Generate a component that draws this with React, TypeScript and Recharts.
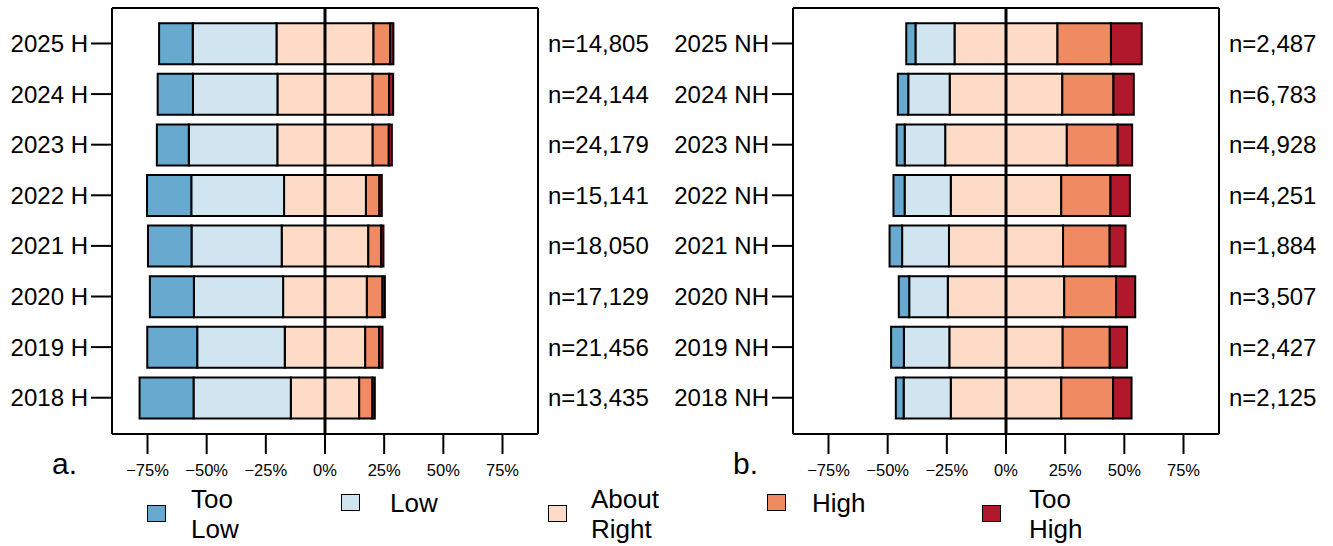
import { BarChart, Bar, XAxis, YAxis, CartesianGrid, ReferenceLine } from 'recharts'

const years = ['2025', '2024', '2023', '2022', '2021', '2020', '2019', '2018']
const pctTicks = [-75, -50, -25, 0, 25, 50, 75]

// panel a (H), percent of respondents
const tooLowH = [14.2, 14.9, 13.5, 18.7, 18.4, 18.6, 21.1, 22.8]
const lowH = [35.4, 35.7, 37.4, 39.2, 38.1, 37.7, 37.0, 41.1]
const aboutH = [41.0, 40.2, 40.3, 34.6, 36.6, 35.4, 34.0, 28.9]
const highH = [7.0, 7.0, 6.8, 5.7, 5.4, 6.6, 5.9, 5.6]
const tooHighH = [1.4, 1.7, 1.3, 1.0, 1.0, 1.0, 1.4, 1.0]
const nH = ['14,805', '24,144', '24,179', '15,141', '18,050', '17,129', '21,456', '13,435']

// panel b (NH)
const tooLowNH = [3.9, 4.4, 3.4, 4.7, 5.3, 4.4, 5.4, 3.3]
const lowNH = [16.5, 17.5, 17.1, 19.5, 19.8, 16.3, 19.2, 19.9]
const aboutNH = [43.5, 47.6, 51.4, 46.7, 48.2, 49.2, 47.9, 46.7]
const highNH = [22.6, 21.6, 21.5, 20.8, 19.7, 21.9, 19.9, 21.9]
const tooHighNH = [13.0, 8.6, 6.1, 8.2, 6.7, 8.1, 7.3, 7.8]
const nNH = ['2,487', '6,783', '4,928', '4,251', '1,884', '3,507', '2,427', '2,125']

const COLORS = {
  tooLow: '#67a9cf',
  low: '#d1e5f0',
  about: '#fddbc7',
  high: '#ef8a62',
  tooHigh: '#b2182b',
}

const legendItems = [
  { name: ['Too', 'Low'], color: COLORS.tooLow, sq: 147, tx: 191 },
  { name: ['Low'], color: COLORS.low, sq: 341, tx: 390 },
  { name: ['About', 'Right'], color: COLORS.about, sq: 548, tx: 591 },
  { name: ['High'], color: COLORS.high, sq: 767, tx: 812 },
  { name: ['Too', 'High'], color: COLORS.tooHigh, sq: 982, tx: 1029 },
]

const FONT = '"Liberation Sans", Arial, Helvetica, sans-serif'

function buildRows(suffix: string, tl: number[], l: number[], ar: number[], h: number[], th: number[], n: string[]) {
  return years.map((y, i) => ({
    pos: i + 1,
    label: `${y} ${suffix}`,
    n: `n=${n[i]}`,
    tl: -tl[i],
    l: -l[i],
    arL: -ar[i] / 2,
    arR: ar[i] / 2,
    h: h[i],
    th: th[i],
  }))
}

const rowsH = buildRows('H', tooLowH, lowH, aboutH, highH, tooHighH, nH)
const rowsNH = buildRows('NH', tooLowNH, lowNH, aboutNH, highNH, tooHighNH, nNH)

const yDomain = [0.299, 8.717]
const yTicks = years.map((_, i) => i + 1)

function fmtPct(v: number) {
  return (v < 0 ? '\u2212' : '') + Math.abs(v) + '%'
}

type Row = ReturnType<typeof buildRows>[number]

interface PanelProps {
  rows: Row[]
  left: number
  leftWidth: number
  rightWidth: number
  tag: string
  tagX: number
}

function Panel({ rows, left, leftWidth, rightWidth, tag, tagX }: PanelProps) {
  const barProps = { stackId: 's', stroke: '#000', strokeWidth: 2, barSize: 41, isAnimationActive: false }
  return (
    <div style={{ position: 'absolute', left, top: 0 }}>
      <BarChart
        width={leftWidth + 426 + rightWidth}
        height={490}
        data={rows}
        layout="vertical"
        stackOffset="sign"
        margin={{ top: 8, right: 0, bottom: 0, left: 0 }}
        style={{ fontFamily: FONT }}
      >
        {/* plot frame */}
        <CartesianGrid
          stroke="#000"
          strokeWidth={2}
          horizontalCoordinatesGenerator={({ offset }: any) => [offset.top, offset.top + offset.height]}
          verticalCoordinatesGenerator={({ offset }: any) => [offset.left, offset.left + offset.width]}
        />
        <XAxis
          type="number"
          domain={[-90, 90]}
          allowDataOverflow
          ticks={pctTicks}
          interval={0}
          tickFormatter={fmtPct}
          axisLine={false}
          tickLine={{ stroke: '#000', strokeWidth: 2 }}
          tickSize={20}
          tickMargin={10}
          height={56}
          tick={{ fill: '#000', fontSize: 16.5 }}
        />
        <YAxis
          type="number"
          dataKey="pos"
          domain={yDomain}
          allowDataOverflow
          ticks={yTicks}
          interval={0}
          tickFormatter={(v: number) => rows[v - 1]?.label ?? ''}
          width={leftWidth}
          axisLine={false}
          tickLine={{ stroke: '#000', strokeWidth: 2 }}
          tickSize={21}
          tickMargin={3}
          tick={{ fill: '#000', fontSize: 24 }}
        />
        <YAxis
          yAxisId="right"
          orientation="right"
          type="number"
          dataKey="pos"
          domain={yDomain}
          allowDataOverflow
          ticks={yTicks}
          interval={0}
          tickFormatter={(v: number) => rows[v - 1]?.n ?? ''}
          width={rightWidth}
          axisLine={false}
          tickLine={false}
          tickSize={0}
          tickMargin={10}
          tick={{ fill: '#000', fontSize: 24, textAnchor: 'start' }}
        />
        <Bar dataKey="arL" fill={COLORS.about} {...barProps} />
        <Bar dataKey="l" fill={COLORS.low} {...barProps} />
        <Bar dataKey="tl" fill={COLORS.tooLow} {...barProps} />
        <Bar dataKey="arR" fill={COLORS.about} {...barProps} />
        <Bar dataKey="h" fill={COLORS.high} {...barProps} />
        <Bar dataKey="th" fill={COLORS.tooHigh} {...barProps} />
        <ReferenceLine x={0} stroke="#000" strokeWidth={3} />
      </BarChart>
      <div style={{ position: 'absolute', left: tagX, top: 449, fontSize: 30, lineHeight: '30px', fontFamily: FONT }}>
        {tag}
      </div>
    </div>
  )
}

export default function App() {
  return (
    <div style={{ position: 'absolute', left: 0, top: 0, width: 1333, height: 546, background: '#fff', fontFamily: FONT }}>
      <Panel rows={rowsH} left={0} leftWidth={112} rightWidth={120} tag="a." tagX={52} />
      <Panel rows={rowsNH} left={660} leftWidth={133} rightWidth={114} tag="b." tagX={73} />
      {legendItems.map((it) => {
        const twoLine = it.name.length > 1
        const top = twoLine ? 484 : 488
        const center = top + (it.name.length * 30) / 2
        return (
          <div key={it.name.join(' ')}>
            <div
              style={{
                position: 'absolute',
                left: it.sq,
                top: center - 9,
                width: 19,
                height: 17,
                boxSizing: 'border-box',
                background: it.color,
                border: '1.5px solid #000',
              }}
            />
            <div style={{ position: 'absolute', left: it.tx, top, fontSize: 26, lineHeight: '30px', color: '#000' }}>
              {it.name.map((s) => (
                <div key={s}>{s}</div>
              ))}
            </div>
          </div>
        )
      })}
    </div>
  )
}
